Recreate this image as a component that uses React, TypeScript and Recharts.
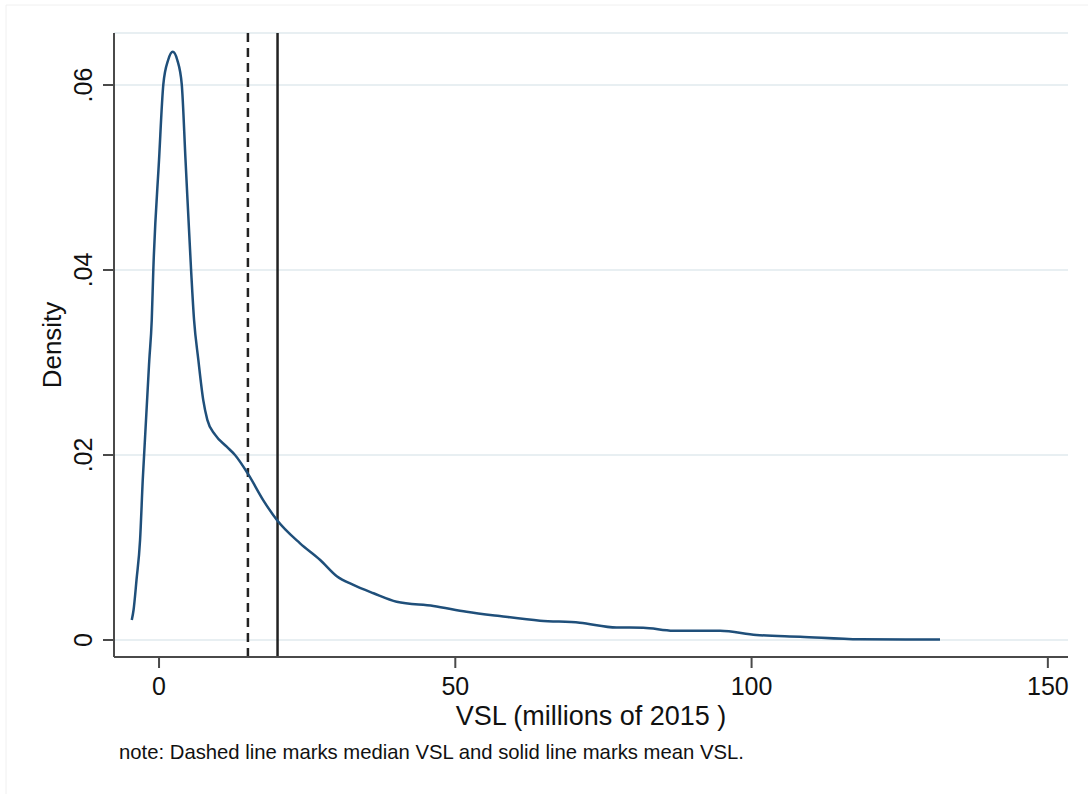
import React from 'react';
import {
  LineChart,
  Line,
  XAxis,
  YAxis,
  CartesianGrid,
  ReferenceLine,
  Label
} from 'recharts';

// Kernel density of VSL estimates (millions of 2015 dollars)
const vslPoints = [
  -4.6, -4.3, -3.8, -3.2, -2.75, -1.64, -1.23, -0.96, 0.0, 0.73, 1.54, 2.31, 3.08, 3.83,
  4.47, 5.4, 5.91, 6.63, 7.47, 8.15, 9.45, 11.42, 12.82, 15.07, 17.6, 19.86, 23.8,
  27.2, 30.0, 32.8, 36.2, 40.1, 46.3, 51.9, 57.5, 64.3, 71.0, 77.2, 81.7, 86.8, 94.7,
  100.8, 108.2, 118.3, 131.8
];
const densityValues = [
  0.00216, 0.00324, 0.00649, 0.01081, 0.0173, 0.0303, 0.0346, 0.0401, 0.0519, 0.0601,
  0.0627, 0.0636, 0.0627, 0.0601, 0.0519, 0.0401, 0.0346, 0.0303, 0.0259, 0.0238,
  0.0222, 0.0209, 0.02, 0.0179, 0.0151, 0.013, 0.01045, 0.00865, 0.0069, 0.00595,
  0.00505, 0.00414, 0.00368, 0.00306, 0.00259, 0.00209, 0.00187, 0.00135, 0.00133,
  0.00101, 0.00101, 0.00054, 0.00036, 0.00008, 0.00005
];

const xTicks = [0, 50, 100, 150];
const yTicks = [0, 0.02, 0.04, 0.06];
const medianVSL = 15;
const meanVSL = 20;

const data = vslPoints.map((x, i) => ({ x, density: densityValues[i] }));

const FONT = '"Liberation Sans", Arial, Helvetica, sans-serif';
const AXIS_COLOR = '#4a4a4a';

const fmtY = (v: number) => (v === 0 ? '0' : String(v).replace(/^0/, ''));

const XTick = ({ x, y, payload }: any) => (
  <text x={x} y={y + 27} textAnchor="middle" fontSize={25} fill="#111" fontFamily={FONT}>
    {payload.value}
  </text>
);

// Stata-style vertical tick labels
const YTick = ({ x, y, payload }: any) => (
  <text
    x={x}
    y={y}
    dy={-11}
    transform={`rotate(-90, ${x}, ${y})`}
    textAnchor="middle"
    fontSize={25}
    fill="#111"
    fontFamily={FONT}
  >
    {fmtY(payload.value)}
  </text>
);

export default function App() {
  return (
    <div style={{ position: 'absolute', left: 0, top: 0, width: 1088, height: 794, background: '#fff' }}>
      <LineChart
        width={1088}
        height={794}
        data={data}
        margin={{ top: 33, right: 20, bottom: 77, left: 0 }}
      >
        <CartesianGrid vertical={false} stroke="#e0eaee" strokeWidth={1.5} />
        <XAxis
          type="number"
          dataKey="x"
          domain={[-7.6, 153.4]}
          ticks={xTicks}
          allowDataOverflow
          height={60}
          tickSize={11}
          tickMargin={0}
          tick={<XTick />}
          axisLine={{ stroke: AXIS_COLOR, strokeWidth: 2 }}
          tickLine={{ stroke: AXIS_COLOR, strokeWidth: 2 }}
        >
          <Label
            content={({ viewBox }: any) => (
              <text
                x={viewBox.x + viewBox.width / 2}
                y={viewBox.y + 68}
                textAnchor="middle"
                fontSize={27}
                fill="#111"
                fontFamily={FONT}
              >
                VSL (millions of 2015 )
              </text>
            )}
          />
        </XAxis>
        <YAxis
          type="number"
          domain={[-0.00184, 0.06562]}
          ticks={yTicks}
          allowDataOverflow
          width={114}
          tickSize={11}
          tickMargin={0}
          tick={<YTick />}
          axisLine={{ stroke: AXIS_COLOR, strokeWidth: 2 }}
          tickLine={{ stroke: AXIS_COLOR, strokeWidth: 2 }}
        >
          <Label
            content={({ viewBox }: any) => {
              const cx = 61;
              const cy = viewBox.y + viewBox.height / 2;
              return (
                <text
                  x={cx}
                  y={cy}
                  transform={`rotate(-90, ${cx}, ${cy})`}
                  textAnchor="middle"
                  fontSize={26}
                  fill="#111"
                  fontFamily={FONT}
                >
                  Density
                </text>
              );
            }}
          />
        </YAxis>
        <ReferenceLine x={medianVSL} stroke="#222" strokeWidth={2.5} strokeDasharray="9 6" />
        <ReferenceLine x={meanVSL} stroke="#222" strokeWidth={2.5} />
        <Line
          type="monotone"
          dataKey="density"
          stroke="#1f4f7a"
          strokeWidth={2.5}
          dot={false}
          activeDot={false}
          isAnimationActive={false}
        />
      </LineChart>
      <svg
        width={1088}
        height={794}
        style={{ position: 'absolute', left: 0, top: 0, pointerEvents: 'none' }}
      >
        <line x1={6} y1={5} x2={1088} y2={5} stroke="#f0f0f0" strokeWidth={1} />
        <line x1={6} y1={5} x2={6} y2={794} stroke="#f0f0f0" strokeWidth={1} />
        <text x={119} y={759} fontSize={20.3} fill="#111" fontFamily={FONT}>
          note: Dashed line marks median VSL and solid line marks mean VSL.
        </text>
      </svg>
    </div>
  );
}
